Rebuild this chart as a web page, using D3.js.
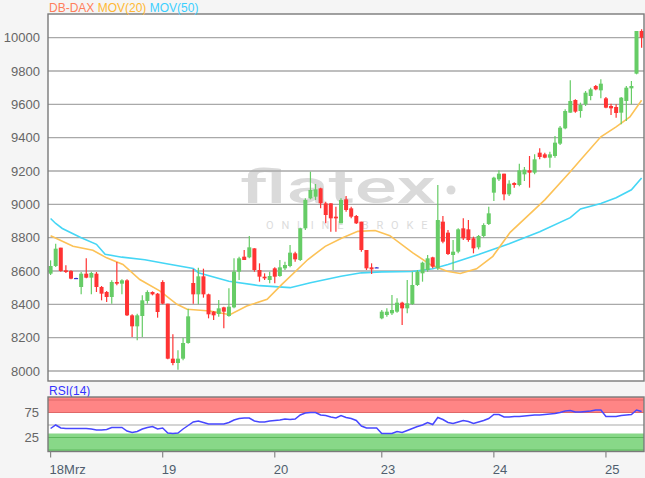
<!DOCTYPE html>
<html><head><meta charset="utf-8">
<script src="https://cdn.jsdelivr.net/npm/d3@7/dist/d3.min.js"></script>
<style>
body{margin:0;background:#f5f5f5;}
svg{display:block;font-family:"Liberation Sans",Arial,sans-serif;}
</style>
</head><body>
<svg id="c" width="645" height="478"></svg>
<script>
// ---- data ----
const dayTickIdx = [0, 22, 44, 65, 87, 109];
const dayLabels = ["18Mrz", "19", "20", "23", "24", "25"];
const priceTicks = [8000, 8200, 8400, 8600, 8800, 9000, 9200, 9400, 9600, 9800, 10000];
const rsiTicks = [25, 75];

const open = [8584,8630,8740,8604,8600,8558,8504,8584,8560,8584,8504,8474,8444,8534,8524,8544,8334,8268,8330,8420,8474,8464,
  8534,8404,8074,8048,8074,8168,8528,8460,8568,8460,8356,8342,8382,8330,8382,8596,8686,8682,8736,8606,8566,8546,
  8616,8570,8616,8630,8706,8666,8856,9036,9046,9096,9006,9006,8926,8886,9030,8976,8930,8896,8726,8622,8622,
  8316,8336,8346,8356,8410,8376,8402,8516,8586,8606,8682,8616,8896,8830,8696,8716,8856,8850,8796,8742,8810,8882,
  9070,9150,9184,9060,9128,9116,9180,9204,9190,9310,9300,9280,9290,9364,9456,9550,9626,9560,9600,9650,9710,9684,
  9636,9590,9584,9550,9620,9696,9784,10040];
const high = [8664,8764,8740,8634,8604,8560,8594,8676,8596,8594,8510,8480,8544,8654,8550,8550,8340,8344,8454,8484,8478,8468,
  8544,8404,8220,8124,8200,8374,8612,8620,8614,8464,8360,8426,8386,8496,8676,8686,8726,8810,8736,8646,8586,8596,
  8622,8666,8656,8756,8716,8860,9036,9196,9122,9100,9016,9006,8986,9036,9050,8986,8936,8896,8726,8646,8624,
  8366,8376,8456,8436,8416,8546,8596,8606,8656,8696,8686,9116,8930,8846,8786,8856,8916,8906,8806,8816,8886,8986,
  9166,9204,9184,9144,9132,9244,9224,9290,9300,9336,9310,9316,9410,9470,9570,9744,9630,9610,9680,9700,9716,9750,
  9644,9604,9600,9644,9710,9740,10040,10050];
const low = [8576,8624,8596,8588,8550,8556,8460,8556,8460,8474,8424,8414,8404,8514,8460,8330,8204,8184,8204,8404,8454,8320,
  8400,8070,8034,8008,8064,8164,8404,8400,8440,8316,8306,8326,8256,8326,8376,8546,8666,8676,8596,8536,8546,8526,
  8526,8566,8606,8622,8656,8660,8846,9030,9026,8976,8886,8836,8836,8886,8956,8916,8882,8716,8606,8582,8620,
  8310,8326,8336,8350,8276,8346,8396,8510,8536,8596,8616,8606,8766,8696,8606,8706,8786,8776,8706,8730,8802,8876,
  9020,9140,9024,9050,9100,9108,9140,9100,9180,9270,9276,9220,9280,9356,9450,9550,9550,9520,9590,9624,9684,9636,
  9576,9536,9520,9480,9500,9600,9780,9940];
const close = [8630,8734,8600,8594,8554,8558,8584,8560,8588,8504,8464,8444,8534,8524,8544,8334,8268,8334,8424,8474,8460,8354,
  8404,8074,8048,8074,8168,8328,8460,8568,8460,8340,8334,8376,8356,8386,8596,8676,8666,8742,8606,8566,8556,8570,
  8566,8622,8636,8710,8670,8856,9026,9086,9090,9006,8936,8916,8916,9026,8966,8926,8886,8726,8616,8610,8622,
  8356,8356,8366,8410,8376,8406,8516,8596,8650,8676,8626,8906,8776,8702,8716,8850,8796,8786,8736,8810,8876,8946,
  9160,9184,9060,9124,9116,9204,9208,9190,9270,9284,9280,9300,9370,9460,9560,9620,9556,9596,9670,9690,9690,9724,
  9580,9576,9548,9640,9700,9710,10040,10000];

// moving averages at these candle positions
const ma20Idx = [0,4.4,8.3,11,14.2,17.5,21.5,24.8,26.8,31.3,35.2,38.5,42.5,45.4,50.5,53.9,57.2,60.3,63.7,66.6,71.1,74.5,77.8,80.4,83.6,86.8,90.2,97,102,104,108,111,113.7,116];
const ma20Val = [8812,8748,8724,8679,8639,8549,8479,8400,8370,8360,8338,8390,8430,8520,8669,8748,8798,8838,8843,8812,8709,8639,8599,8585,8613,8688,8832,9027,9196,9266,9405,9465,9524,9624];
const ma50Idx = [0,1,2.3,6,9,10.7,14,18.5,22.5,28,29,35,41,47,51,57,61,65,71,75,78,84,90,96,102,104,108,111,114,116];
const ma50Val = [8915,8885,8855,8800,8760,8700,8683,8668,8645,8615,8590,8539,8512,8500,8530,8569,8589,8595,8597,8613,8639,8699,8764,8836,8920,8972,9005,9040,9087,9158];

const rsi = [43,50,44,43,43,43,43,43,42,40,40,41,45,45,45,38,35,37,42,45,47,42,
  44,34,33,34,42,49,56,58,55,52,52,52,52,55,60,63,64,64,58,56,56,58,
  59,60,62,61,62,70,74,75,75,70,69,66,64,69,65,63,59,48,44,44,44,
  33,33,33,37,35,39,43,47,50,55,51,65,61,55,53,56,59,57,53,56,59,63,
  71,71,66,66,67,67,68,69,70,70,71,72,73,75,78,79,76,76,77,78,80,80,
  67,67,67,69,70,71,80,77];

// ---- layout ----
const svg = d3.select("#c");
const L = 48, R = 644, T = 14, B = 381;
const rT = 397, rB = 451.5;

const x = d3.scaleLinear().domain([-0.51, 116.47]).range([L, R]);
const y = d3.scaleLinear().domain([7940, 10142]).range([B, T]);
const yr = d3.scaleLinear().domain([-3, 106]).range([rB, rT]);

svg.append("rect").attr("width",645).attr("height",478).attr("fill","#f5f5f5");

// main plot
svg.append("rect").attr("x",L).attr("y",T).attr("width",R-L).attr("height",B-T).attr("fill","#fff");
svg.append("defs").append("clipPath").attr("id","clipMain")
  .append("rect").attr("x",L).attr("y",T).attr("width",R-L).attr("height",B-T);

// watermark
svg.append("text").attr("x",240).attr("y",203).text("flatex")
  .attr("font-family","Roboto,sans-serif").attr("font-weight",500).attr("font-size",46)
  .attr("textLength",196).attr("lengthAdjust","spacingAndGlyphs").attr("fill","#dadada");
svg.append("circle").attr("cx",451).attr("cy",190).attr("r",4.5).attr("fill","#dadada");
svg.append("text").attr("x",266).attr("y",229).text("ONLINE BROKER")
  .attr("font-family","Roboto,sans-serif").attr("font-size",11)
  .attr("textLength",176).attr("lengthAdjust","spacing").attr("fill","#dcdcdc");

// gridlines
svg.append("g").selectAll("line").data(priceTicks).join("line")
  .attr("x1",L).attr("x2",R).attr("y1",d=>y(d)).attr("y2",d=>y(d))
  .attr("stroke","#a9a9a9").attr("stroke-width",1.4);

// y labels
svg.append("g").selectAll("text").data(priceTicks).join("text")
  .attr("x",40).attr("y",d=>y(d)).attr("dy","0.36em").attr("text-anchor","end")
  .attr("font-size",13).attr("fill","#666").text(d=>d);

const g = svg.append("g").attr("clip-path","url(#clipMain)");

// moving averages
const lineGen = d3.line().x(d=>x(d[0])).y(d=>y(d[1]));
g.append("path").attr("d", lineGen(ma50Idx.map((v,i)=>[v,ma50Val[i]])))
  .attr("fill","none").attr("stroke","#45d6f5").attr("stroke-width",1.6);
g.append("path").attr("d", lineGen(ma20Idx.map((v,i)=>[v,ma20Val[i]])))
  .attr("fill","none").attr("stroke","#fcc257").attr("stroke-width",1.6);

// candles
const idx = d3.range(open.length);
const col = i => close[i] > open[i] ? "#66cc66" : (close[i] < open[i] ? "#ff3333" : "#3333cc");
g.append("g").selectAll("line").data(idx).join("line")
  .attr("x1",i=>x(i)).attr("x2",i=>x(i)).attr("y1",i=>y(high[i])).attr("y2",i=>y(low[i]))
  .attr("stroke",col).attr("stroke-width",1.2);
const bw = 4;
g.append("g").selectAll("rect").data(idx).join("rect")
  .attr("x",i=>x(i)-bw/2).attr("width",bw)
  .attr("y",i=>Math.min(y(open[i]),y(close[i])))
  .attr("height",i=>Math.max(1.2, Math.abs(y(open[i])-y(close[i]))))
  .attr("fill",col);

svg.append("rect").attr("x",L).attr("y",T).attr("width",R-L).attr("height",B-T)
  .attr("fill","none").attr("stroke","#7a7a7a").attr("stroke-width",1.4);

// legend
const leg = svg.append("text").attr("x",49).attr("y",12).attr("font-size",12);
leg.append("tspan").attr("fill","#ff7f5c").text("DB-DAX ");
leg.append("tspan").attr("fill","#ffb833").text("MOV(20) ");
leg.append("tspan").attr("fill","#3ccfff").text("MOV(50)");

// ---- RSI panel ----
svg.append("text").attr("x",49).attr("y",395).attr("font-size",12).attr("fill","#3333ff").text("RSI(14)");
svg.append("rect").attr("x",L).attr("y",rT).attr("width",R-L).attr("height",rB-rT).attr("fill","#fff");
svg.append("rect").attr("x",L).attr("y",rT).attr("width",R-L).attr("height",yr(74)-rT).attr("fill","#ff8585");
svg.append("rect").attr("x",L).attr("y",yr(33)).attr("width",R-L).attr("height",rB-yr(33)).attr("fill","#88d888");
[[100,"#e06868"],[75,"#e06868"],[50,"#a9a9a9"],[25,"#5cb85c"],[0,"#5cb85c"]].forEach(([v,c])=>{
  svg.append("line").attr("x1",L).attr("x2",R).attr("y1",yr(v)).attr("y2",yr(v))
    .attr("stroke",c).attr("stroke-width",1.2);
});
svg.append("path").attr("d", d3.line().x((d,i)=>x(i)).y(d=>yr(d))(rsi))
  .attr("fill","none").attr("stroke","#4747ff").attr("stroke-width",1.5);
svg.append("rect").attr("x",L).attr("y",rT).attr("width",R-L).attr("height",rB-rT)
  .attr("fill","none").attr("stroke","#7a7a7a").attr("stroke-width",1.4);
svg.append("g").selectAll("text").data(rsiTicks).join("text")
  .attr("x",39).attr("y",d=>yr(d)).attr("dy","0.36em").attr("text-anchor","end")
  .attr("font-size",13).attr("fill","#666").text(d=>d);

// x axis
const xa = svg.append("g");
xa.selectAll("line").data(dayTickIdx).join("line")
  .attr("x1",d=>x(d)).attr("x2",d=>x(d)).attr("y1",rB).attr("y2",rB+6)
  .attr("stroke","#888").attr("stroke-width",1.2);
xa.selectAll("text").data(dayTickIdx).join("text")
  .attr("x",d=>x(d)-1).attr("y",474).attr("font-size",13).attr("fill","#4f5e6e")
  .text((d,i)=>dayLabels[i]);
</script>
</body></html>
